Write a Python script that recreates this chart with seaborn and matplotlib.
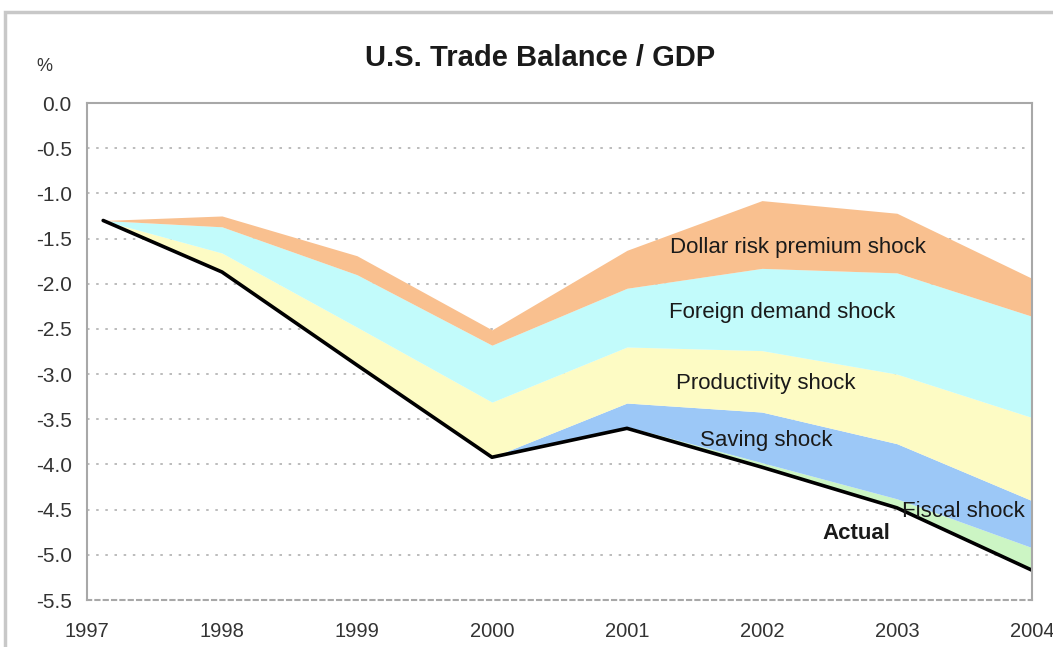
import matplotlib
matplotlib.use("Agg")
import matplotlib.pyplot as plt
import seaborn as sns
import pandas as pd
from matplotlib.patches import Rectangle

# Data (% of GDP); each list is the top edge of a band
years = [1997.12, 1998, 1999, 2000, 2001, 2002, 2003, 2004]
actual = [-1.30, -1.87, -2.90, -3.92, -3.60, -4.03, -4.48, -5.17]
fiscal_top = [-1.30, -1.87, -2.90, -3.92, -3.58, -3.98, -4.38, -4.92]
saving_top = [-1.30, -1.87, -2.90, -3.92, -3.32, -3.42, -3.77, -4.40]
productivity_top = [-1.30, -1.66, -2.48, -3.31, -2.70, -2.74, -3.00, -3.48]
foreign_top = [-1.30, -1.37, -1.90, -2.68, -2.05, -1.83, -1.88, -2.36]
dollar_top = [-1.30, -1.25, -1.69, -2.51, -1.63, -1.08, -1.22, -1.94]

band_names = ["Fiscal shock", "Saving shock", "Productivity shock",
              "Foreign demand shock", "Dollar risk premium shock"]
band_colors = ["#ccf5c4", "#9cc8f7", "#fdfbc4", "#c2fbfb", "#f9c08f"]

# label positions (year, value)
label_x = [2003.49, 2002.03, 2002.03, 2002.15, 2002.27]
label_y = [-4.52, -3.74, -3.10, -2.32, -1.60]

year_ticks = [1997, 1998, 1999, 2000, 2001, 2002, 2003, 2004]
value_ticks = [0.0, -0.5, -1.0, -1.5, -2.0, -2.5, -3.0, -3.5, -4.0, -4.5, -5.0, -5.5]

df = pd.DataFrame({"year": years, "actual": actual})

sns.set_theme(style="white")
plt.rcParams["font.family"] = ["Liberation Sans", "DejaVu Sans"]

fig = plt.figure(figsize=(10.53, 6.47), dpi=100)
ax = fig.add_axes([0.0826, 0.0726, 0.8974, 0.7682])

# frame around the whole picture
fig.patches.append(Rectangle((0.005, -0.1), 1.2, 1.081, transform=fig.transFigure,
                             fill=False, edgecolor="#c8c8c8", linewidth=2.5))

lowers = [actual, fiscal_top, saving_top, productivity_top, foreign_top]
uppers = [fiscal_top, saving_top, productivity_top, foreign_top, dollar_top]
for lo, up, col in zip(lowers, uppers, band_colors):
    ax.fill_between(years, lo, up, color=col, linewidth=0)

sns.lineplot(data=df, x="year", y="actual", color="black", linewidth=2.6, ax=ax)

for name, x, y in zip(band_names, label_x, label_y):
    ax.text(x, y, name, ha="center", va="center", fontsize=16, color="#1a1a1a")
ax.text(2002.70, -4.76, "Actual", ha="center", va="center", fontsize=16,
        fontweight="bold", color="#1a1a1a")

ax.set_xlim(1997, 2004)
ax.set_ylim(-5.5, 0)
ax.set_xticks(year_ticks)
ax.set_xticklabels([str(y) for y in year_ticks])
ax.set_yticks(value_ticks)
ax.set_yticklabels([f"{v:.1f}" for v in value_ticks])
ax.tick_params(axis="x", length=0, pad=16, labelsize=14.5, labelcolor="#333333")
ax.tick_params(axis="y", length=0, pad=11, labelsize=15, labelcolor="#333333")
ax.set_xlabel("")
ax.set_ylabel("")

for v in value_ticks[1:-1]:
    ax.axhline(v, color="#b0b0b0", linestyle=(0, (1.5, 4)), linewidth=1.2, zorder=0)

for side in ["top", "left", "right"]:
    ax.spines[side].set_color("#a8a8a8")
    ax.spines[side].set_linewidth(1.5)
ax.spines["bottom"].set_color("#a8a8a8")
ax.spines["bottom"].set_linewidth(1.5)
ax.spines["bottom"].set_linestyle((0, (2, 2)))

fig.text(0.513, 0.91, "U.S. Trade Balance / GDP", ha="center", va="center",
         fontsize=21, fontweight="bold", color="#1a1a1a")
fig.text(0.042, 0.897, "%", ha="center", va="center", fontsize=13, color="#333333")

fig.savefig("out.png", dpi=100)
